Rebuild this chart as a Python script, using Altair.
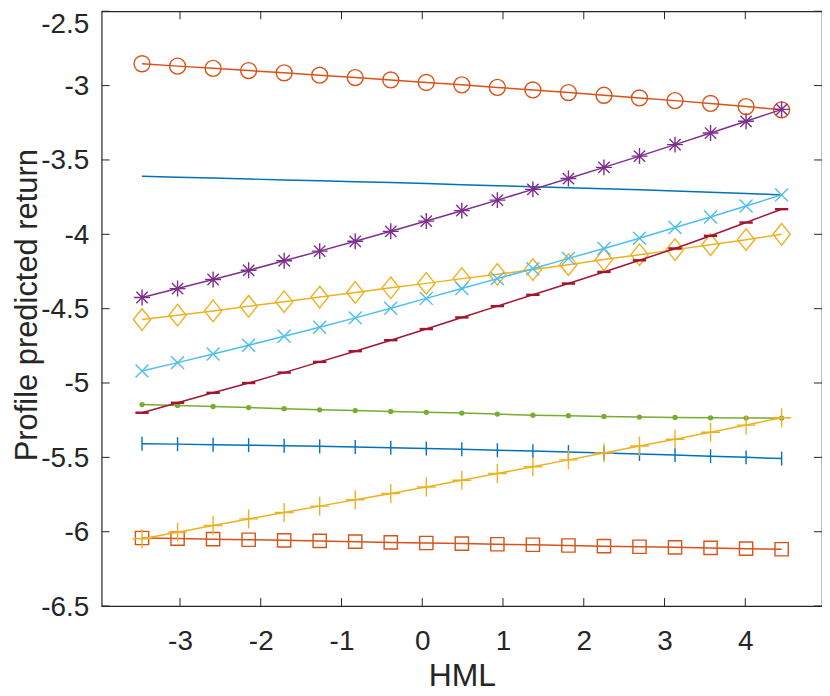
import altair as alt
import pandas as pd

# HML grid (x)
x_vals = [-3.47, -3.03, -2.59, -2.15, -1.71, -1.27, -0.83, -0.39, 0.05, 0.49,
          0.93, 1.37, 1.81, 2.25, 2.69, 3.13, 3.57, 4.01, 4.45]

# Series values
blue_plain = [-3.610, -3.616, -3.622, -3.628, -3.634, -3.640, -3.646, -3.652, -3.659, -3.666,
              -3.673, -3.680, -3.687, -3.694, -3.701, -3.709, -3.717, -3.725, -3.735]
orange_circle = [-2.853, -2.869, -2.884, -2.899, -2.914, -2.930, -2.946, -2.962, -2.979, -2.995,
                 -3.012, -3.029, -3.047, -3.065, -3.083, -3.101, -3.120, -3.141, -3.163]
yellow_diamond = [-4.573, -4.544, -4.515, -4.484, -4.453, -4.422, -4.391, -4.360, -4.330, -4.298,
                  -4.269, -4.237, -4.204, -4.170, -4.137, -4.103, -4.070, -4.036, -4.000]
purple_star = [-4.425, -4.365, -4.304, -4.242, -4.178, -4.113, -4.047, -3.980, -3.911, -3.841,
               -3.770, -3.698, -3.625, -3.550, -3.474, -3.397, -3.319, -3.240, -3.160]
green_dot = [-5.145, -5.151, -5.158, -5.165, -5.173, -5.180, -5.185, -5.191, -5.197, -5.202,
             -5.209, -5.216, -5.220, -5.225, -5.229, -5.232, -5.234, -5.236, -5.236]
cyan_x = [-4.919, -4.863, -4.805, -4.746, -4.686, -4.625, -4.562, -4.497, -4.431, -4.365,
          -4.298, -4.231, -4.162, -4.096, -4.026, -3.954, -3.884, -3.810, -3.735]
red_dash = [-5.200, -5.133, -5.066, -5.000, -4.930, -4.858, -4.786, -4.712, -4.637, -4.559,
            -4.483, -4.407, -4.331, -4.253, -4.175, -4.095, -4.010, -3.921, -3.831]
blue_bar = [-5.408, -5.411, -5.415, -5.418, -5.422, -5.426, -5.430, -5.435, -5.440, -5.446,
            -5.452, -5.458, -5.464, -5.470, -5.477, -5.484, -5.492, -5.500, -5.508]
orange_square = [-6.042, -6.046, -6.050, -6.054, -6.058, -6.062, -6.067, -6.072, -6.076, -6.080,
                 -6.084, -6.088, -6.093, -6.097, -6.101, -6.105, -6.109, -6.114, -6.118]
yellow_plus = [-6.047, -6.003, -5.958, -5.914, -5.871, -5.828, -5.785, -5.743, -5.699, -5.654,
               -5.609, -5.563, -5.517, -5.471, -5.424, -5.378, -5.331, -5.283, -5.234]

x_ticks = [-3, -2, -1, 0, 1, 2, 3, 4]
y_ticks = [-6.5, -6, -5.5, -5, -4.5, -4, -3.5, -3, -2.5]

PLUS = "M-1,0L1,0M0,-1L0,1"
XMARK = "M-1,-1L1,1M-1,1L1,-1"
STAR = "M-1,0L1,0M0,-1L0,1M-0.71,-0.71L0.71,0.71M-0.71,0.71L0.71,-0.71"
VBAR = "M0,-1L0,1"
HBAR = "M-1,0L1,0"
DIAM = "M0,-1L0.8,0L0,1L-0.8,0Z"

# name, values, color, shape, size, filled, marker stroke width
series = [
    ("s1", blue_plain, "#0072BD", None, 0, False, 0),
    ("s2", orange_circle, "#D95319", "circle", 256, False, 1.4),
    ("s3", yellow_diamond, "#EDB120", DIAM, 470, False, 1.4),
    ("s4", purple_star, "#7E2F8E", STAR, 256, False, 1.4),
    ("s5", green_dot, "#77AC30", "circle", 28, True, 0),
    ("s6", cyan_x, "#4DBEEE", XMARK, 169, False, 1.4),
    ("s7", red_dash, "#A2142F", HBAR, 180, False, 2.4),
    ("s8", blue_bar, "#0072BD", VBAR, 196, False, 1.4),
    ("s9", orange_square, "#D95319", "square", 177, False, 1.4),
    ("s10", yellow_plus, "#EDB120", PLUS, 361, False, 1.4),
]

rows = []
for name, vals, *_ in series:
    for xv, yv in zip(x_vals, vals):
        rows.append({"series": name, "x": xv, "y": yv})
df = pd.DataFrame(rows)

W, H = 723, 597
AX = "#262626"
FONT = "Liberation Sans"

xscale = alt.Scale(domain=[-3.97, 4.95], nice=False, zero=False)
yscale = alt.Scale(domain=[-6.5, -2.5], nice=False, zero=False)

xaxis = alt.Axis(values=x_ticks, title="HML", grid=False, domain=False, ticks=False,
                 labelExpr="toString(datum.value)", labelFontSize=28, labelFont=FONT,
                 labelColor=AX, labelBaseline="alphabetic", labelPadding=44,
                 titleFont=FONT, titleFontSize=32, titleFontWeight="normal", titleColor=AX,
                 titleBaseline="alphabetic", titleY=80, titleX=W / 2)
yaxis = alt.Axis(values=y_ticks, title="Profile predicted return", grid=False, domain=False,
                 ticks=False, labelExpr="toString(datum.value)", labelFontSize=28,
                 labelFont=FONT, labelColor=AX, labelPadding=13,
                 labelOffset={"condition": {"test": "datum.value == -2.5", "value": 13}, "value": 1},
                 titleFont=FONT, titleFontSize=31, titleFontWeight="normal", titleColor=AX,
                 titleBaseline="alphabetic", titleX=-65, titleY=H / 2 - 4, titleAngle=270)

X = alt.X("x:Q", scale=xscale, axis=xaxis)
Y = alt.Y("y:Q", scale=yscale, axis=yaxis)

base = alt.Chart(df)
layers = []
for name, vals, color, shape, size, filled, sw in series:
    sub = base.transform_filter(alt.datum.series == name)
    layers.append(sub.mark_line(color=color, strokeWidth=1.5).encode(x=X, y=Y))
    if shape is not None:
        if filled:
            pm = sub.mark_point(shape=shape, size=size, filled=True, color=color, opacity=1)
        else:
            pm = sub.mark_point(shape=shape, size=size, filled=False, color=color,
                                strokeWidth=sw, opacity=1)
        layers.append(pm.encode(x=X, y=Y))

# inward ticks (box on all four sides)
xt = alt.Chart(pd.DataFrame({"x": x_ticks}))
yt = alt.Chart(pd.DataFrame({"y": y_ticks}))
TL = 8
layers.append(xt.mark_rule(color=AX, strokeWidth=1).encode(x=X, y=alt.value(H), y2=alt.value(H - TL)))
layers.append(xt.mark_rule(color=AX, strokeWidth=1).encode(x=X, y=alt.value(0), y2=alt.value(TL)))
layers.append(yt.mark_rule(color=AX, strokeWidth=1).encode(y=Y, x=alt.value(0), x2=alt.value(TL)))
layers.append(yt.mark_rule(color=AX, strokeWidth=1).encode(y=Y, x=alt.value(W - TL), x2=alt.value(W)))

chart = alt.layer(*layers).properties(
    width=W, height=H, autosize="none",
    padding={"left": 94, "top": 2, "right": 0, "bottom": 88},
).configure_view(stroke=AX, strokeWidth=1.2)

chart.save("out.html", embed_options={"renderer": "svg", "actions": False})
